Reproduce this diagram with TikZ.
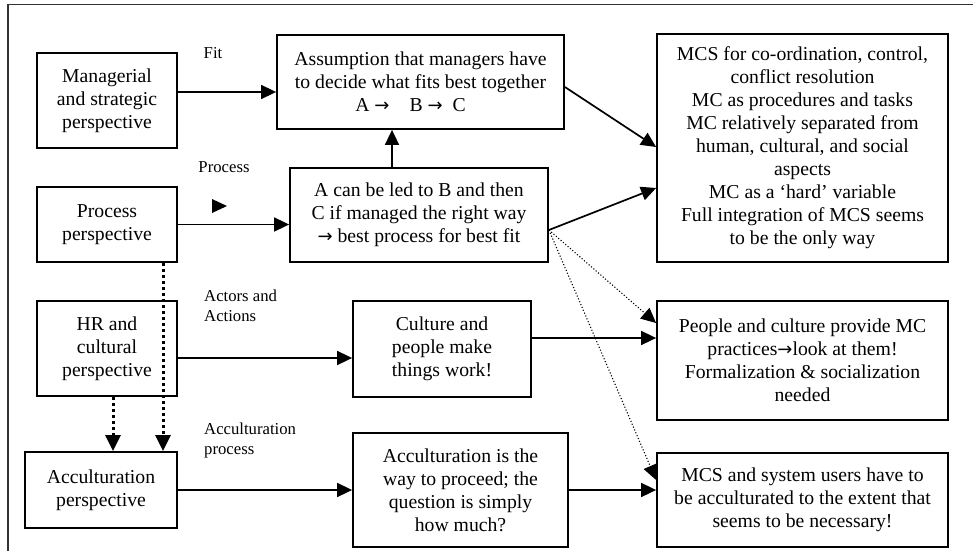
\documentclass[tikz,border=0pt]{standalone}
\usepackage{fontspec}
\setmainfont{Liberation Serif}
\newfontfamily\arrowfont{DejaVu Sans}
\newcommand{\rarr}{{\arrowfont\fontsize{18}{23}\selectfont →}}
\usetikzlibrary{arrows.meta,calc}
\begin{document}
\begin{tikzpicture}[x=1pt,y=-1pt,
  box/.style={draw, line width=1.8pt, inner sep=0pt, align=center,
    font=\fontsize{19.7}{23}\selectfont},
  lbl/.style={inner sep=0pt, font=\fontsize{16.7}{19.5}\selectfont},
  arr/.style={line width=1.7pt, -{Triangle[length=15pt,width=14pt]}},
  thindots/.style={line width=1.1pt, dotted, -{Triangle[length=15pt,width=14pt]}},
  heavydots/.style={line width=3pt, dash pattern=on 3pt off 3pt,
    -{Triangle[length=16pt,width=15pt]}},
]
\useasboundingbox (0,0) rectangle (973,551);

% page frame (top and left edges)
\draw[line width=1.6pt, black!80] (8,551) -- (8,4.5) -- (973,4.5);

% perspectives (left column)
\node[box, minimum width=140pt, minimum height=95pt] (mgr) at (107,100.5)
  {Managerial\\and strategic\\perspective};
\node[box, minimum width=140pt, minimum height=75pt] (proc) at (107,224.5)
  {Process\\perspective};
\node[box, minimum width=140pt, minimum height=95pt] (hr) at (107,348.5)
  {HR and\\cultural\\perspective};
\node[box, minimum width=152pt, minimum height=76pt] (accp) at (101,490)
  {Acculturation\\perspective};

% middle column
\node[box, minimum width=287pt, minimum height=94pt] (assume) at (420.5,82)
  {Assumption that managers have\\to decide what fits best together\\
   A\ \rarr\hspace{20pt}B\ \rarr\ \ C\hspace*{20pt}};
\node[box, minimum width=258pt, minimum height=94pt] (lead) at (419,215)
  {A can be led to B and then\\C if managed the right way\\\rarr\ best process for best fit};
\node[box, minimum width=178pt, minimum height=96pt] (cult) at (442,349)
  {Culture and\\people make\\things work!};
\node[box, minimum width=215pt, minimum height=114pt] (accw) at (460.5,490)
  {Acculturation is the\\way to proceed; the\\question is simply\\how much?};

% right column
\node[box, minimum width=291pt, minimum height=228pt] (mcs) at (802.5,148)
  {MCS for co-ordination, control,\\conflict resolution\\MC as procedures and tasks\\
   MC relatively separated from\\human, cultural, and social\\aspects\\
   MC as a ‘hard’ variable\\Full integration of MCS seems\\to be the only way};
\node[box, minimum width=291pt, minimum height=119pt] (people) at (802.5,360.5)
  {People and culture provide MC\\practices\rarr look at them!\\Formalization \& socialization\\needed};
\node[box, minimum width=291pt, minimum height=94pt] (users) at (802.5,500)
  {MCS and system users have to\\be acculturated to the extent that\\seems to be necessary!};

% connector labels
\node[lbl] (fitlbl) at (213,53) {Fit};
\node[lbl] (proclbl) at (224,167) {Process};
\node[lbl, anchor=north west, align=left] (actlbl) at (204,290) {Actors and\\Actions};
\node[lbl, anchor=north west, align=left] (acclbl) at (204,423) {Acculturation\\process};

% loose arrowhead under the process label
\fill (212,199) -- (227,206) -- (212,213) -- cycle;

% connectors
\draw[arr] (mgr.east |- 0,92) -- (assume.west |- 0,92);
\draw[arr] (proc.east) -- (lead.west |- proc.east);
\draw[arr] (lead.north -| 392,0) -- (assume.south -| 392,0);
\draw[arr] (assume.east |- 0,87) -- (mcs.west |- 0,147);
\draw[arr] (lead.east |- 0,230) -- (mcs.west |- 0,188);
\draw[thindots] (lead.east |- 0,230) -- (people.west |- 0,323);
\draw[thindots] (lead.east |- 0,230) -- (users.west |- 0,480);
\draw[arr] (hr.east |- 0,358) -- (cult.west |- 0,358);
\draw[arr] (cult.east |- 0,338) -- (people.west |- 0,338);
\draw[arr] (accp.east) -- (accw.west |- accp.east);
\draw[arr] (accw.east) -- (users.west |- accw.east);
\draw[heavydots] (proc.south -| 163,0) -- (accp.north -| 163,0);
\draw[heavydots] (hr.south -| 113,0) -- (accp.north -| 113,0);
\end{tikzpicture}
\end{document}
